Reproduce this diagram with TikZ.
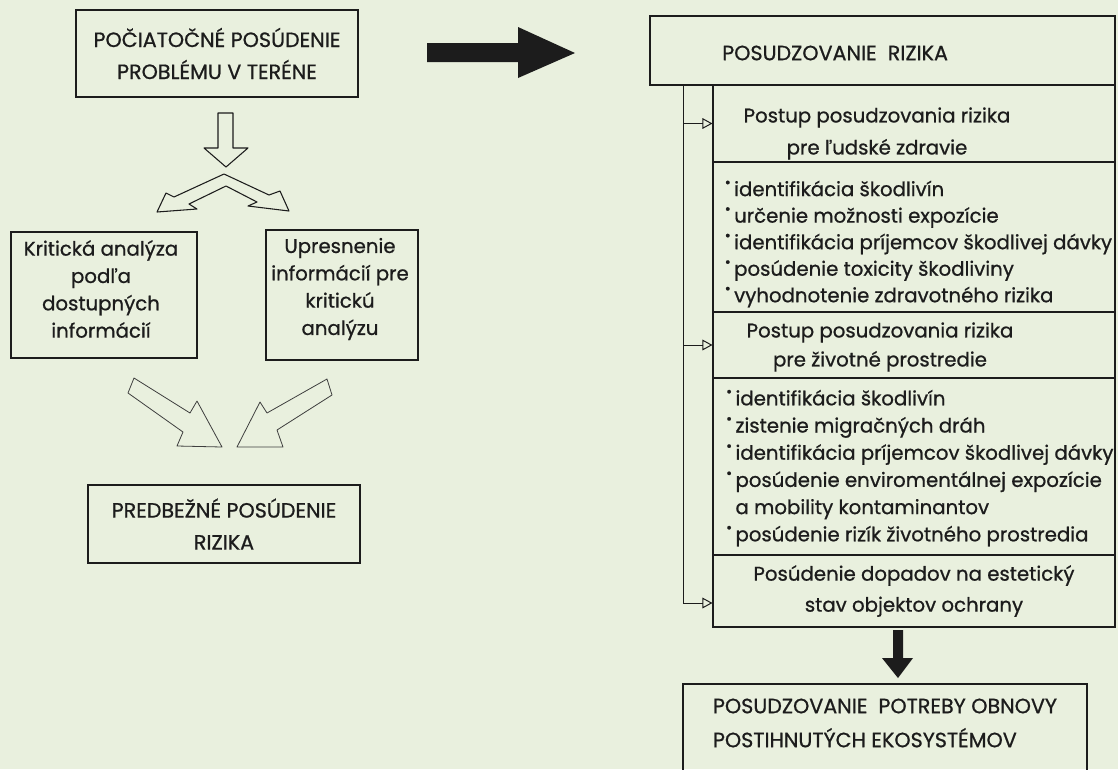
\documentclass[tikz,border=0pt]{standalone}
\usepackage{fontspec}
\setmainfont{Poppins}[FakeBold=0.8]
\usetikzlibrary{arrows.meta,positioning}
\definecolor{paper}{RGB}{233,240,222}
\definecolor{ink}{RGB}{28,28,28}
\newcommand{\bul}{\raisebox{0.8ex}{\scalebox{0.75}{\textbullet}}\hspace{2.5pt}}

\begin{document}
\begin{tikzpicture}[x=0.75pt,y=-0.75pt,
  box/.style={draw=ink, line width=0.8pt, inner sep=0pt, text=ink},
  caps/.style={font=\fontsize{15.5}{24}\selectfont, align=center, text=ink},
  txt/.style={font=\fontsize{14.8}{20.5}\selectfont, align=center, text=ink},
  head/.style={font=\fontsize{14.8}{24}\selectfont, align=center, text=ink},
  list/.style={font=\fontsize{14.8}{19.9}\selectfont, align=left, text=ink,
               anchor=north west, inner sep=0pt},
  hollow/.style={draw=ink, line width=0.8pt, line join=round},
  thin/.style={draw=ink!85, line width=0.6pt, line join=round},
  branch/.style={draw=ink, line width=0.75pt,
                 -{Triangle[open, length=7.5pt, width=8pt]}}
]
\fill[paper] (0,0) rectangle (1118,769);
\useasboundingbox (0,0) rectangle (1118,769);

% left column
\node[box, caps, minimum width=211.5pt, minimum height=65.25pt] (start) at (217,53.5)
  {POČIATOČNÉ POSÚDENIE\\PROBLÉMU V TERÉNE};
\node[box, minimum width=139.5pt, minimum height=94.5pt] (crit) at (104,295) {};
\node[txt] at (101,289) {Kritická analýza\\podľa\\dostupných\\informácií};
\node[box, minimum width=114pt, minimum height=97.5pt] (info) at (342,295) {};
\node[txt] at (340,289) {Upresnenie\\informácií pre\\kritickú\\analýzu};
\node[box, caps, minimum width=204pt, minimum height=58.5pt] (prelim) at (224,524)
  {PREDBEŽNÉ POSÚDENIE\\RIZIKA};

\draw[hollow] (218,113) -- (233,113) -- (233,148) -- (248,148) -- (226,167)
  -- (204,148) -- (218,148) -- cycle;
\draw[hollow] (224,174) -- (174,197) -- (166,193) -- (157,212) -- (197,209)
  -- (189,204) -- (226,186) -- (257,202) -- (248,206) -- (289,211)
  -- (280,191) -- (269,195) -- cycle;
\draw[thin] (134,378) -- (190,413) -- (197,401) -- (222,447) -- (177,446)
  -- (183,432) -- (128,393) -- cycle;
\draw[thin] (327,379) -- (332,395) -- (277,430) -- (283,447) -- (237,447)
  -- (260,402) -- (267,413) -- cycle;

\fill[ink] (427,43) -- (518,43) -- (518,27) -- (575,53) -- (518,78)
  -- (518,62) -- (427,62) -- cycle;

% right column
\node[box, minimum width=348.75pt, minimum height=51.75pt] (risk) at (882.5,50.5) {};
\node[caps, anchor=west, inner sep=0pt] at (722,53) {POSUDZOVANIE\ \ RIZIKA};
\node[box, minimum width=301.5pt, minimum height=57.75pt] (h1) at (914,123.5) {};
\node[head] at (877,133.5) {Postup posudzovania rizika\\pre ľudské zdravie};
\node[box, minimum width=301.5pt, minimum height=112.5pt] (l1) at (914,237) {};
\node[list] at ([xshift=9pt,yshift=-14.2pt]l1.north west)
  {\bul identifikácia škodlivín\\
   \bul určenie možnosti expozície\\
   \bul identifikácia príjemcov škodlivej dávky\\
   \bul posúdenie toxicity škodliviny\\
   \bul vyhodnotenie zdravotného rizika};
\node[box, minimum width=301.5pt, minimum height=49.5pt] (h2) at (914,345) {};
\node[head, font=\fontsize{14.8}{21.75}\selectfont] at (880,347)
  {Postup posudzovania rizika\\pre životné prostredie};
\node[box, minimum width=301.5pt, minimum height=132.75pt] (l2) at (914,466.5) {};
\node[list, font=\fontsize{14.8}{20.4}\selectfont]
  at ([xshift=10pt,yshift=-9.1pt]l2.north west)
  {\bul identifikácia škodlivín\\
   \bul zistenie migračných dráh\\
   \bul identifikácia príjemcov škodlivej dávky\\
   \bul posúdenie enviromentálnej expozície\\
   \hphantom{\bul}a mobility kontaminantov\\
   \bul posúdenie rizík životného prostredia};
\node[box, head, font=\fontsize{14.8}{23.25}\selectfont,
      minimum width=301.5pt, minimum height=54pt] (h3) at (914,591)
  {Posúdenie dopadov na estetický\\stav objektov ochrany};

\coordinate (trunk) at ([xshift=25.5pt]risk.south west);
\draw[branch] (trunk) |- ([yshift=-9pt]h3.west);
\draw[branch] (trunk |- h1.west) -- (h1.west);
\draw[branch] (trunk |- h2.west) -- (h2.west);

\fill[ink] (893,630) -- (903,630) -- (903,658) -- (913,658) -- (898,678)
  -- (882,658) -- (893,658) -- cycle;

\node[box, minimum width=303pt, minimum height=66pt] (renew) at (885,728) {};
\node[caps, font=\fontsize{15.5}{25.5}\selectfont, align=left] at (885,723)
  {POSUDZOVANIE\ \ POTREBY OBNOVY\\POSTIHNUTÝCH EKOSYSTÉMOV};
\end{tikzpicture}
\end{document}
